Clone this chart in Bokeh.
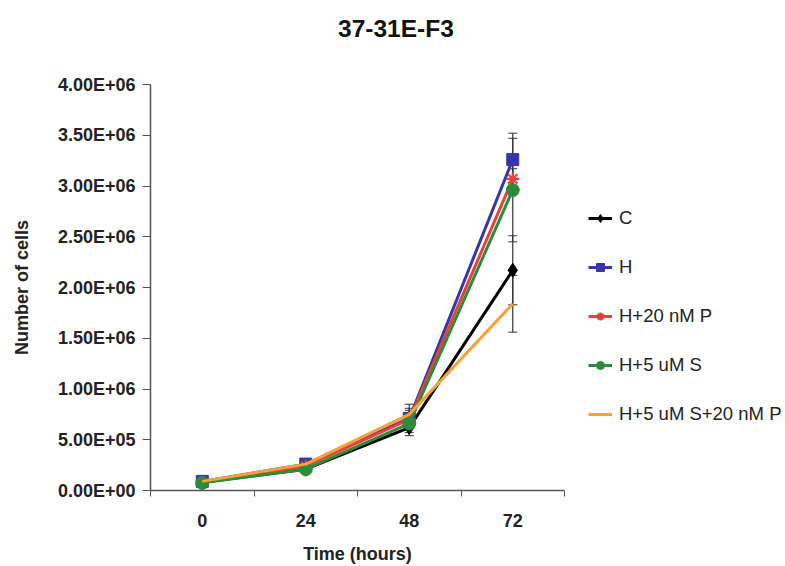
from bokeh.plotting import figure
from bokeh.models import (ColumnDataSource, FixedTicker, CustomJSTickFormatter, Range1d,
                          Legend, LegendItem, Whisker, Div)
from bokeh.layouts import column
from bokeh.embed import file_html
from bokeh.resources import INLINE

# ---- data ----
title_text = "37-31E-F3"
times = ["0", "24", "48", "72"]
series_names = ["C", "H", "H+20 nM P", "H+5 uM S", "H+5 uM S+20 nM P"]
c_vals = [80000, 210000, 620000, 2170000]
c_err = [20000, 30000, 80000, 340000]
h_vals = [90000, 260000, 710000, 3260000]
h_err = [20000, 30000, 100000, 260000]
hp_vals = [80000, 240000, 700000, 3070000]
hp_err = [20000, 30000, 90000, 100000]
hs_vals = [75000, 210000, 660000, 2960000]
hs_err = [20000, 30000, 90000, 510000]
hsp_vals = [90000, 260000, 750000, 1840000]
hsp_err = [20000, 30000, 100000, 280000]
y_ticks = [0, 500000, 1000000, 1500000, 2000000, 2500000, 3000000, 3500000, 4000000]

values = [c_vals, h_vals, hp_vals, hs_vals, hsp_vals]
errors = [c_err, h_err, hp_err, hs_err, hsp_err]
colors = ["#000000", "#3636a8", "#e8403c", "#2e8b3a", "#f2a33a"]
markers = ["diamond", "square", "asterisk", "circle", None]
msizes = [14, 12, 13, 13, 0]

xpos = [i + 0.5 for i in range(len(times))]

FONT = "Liberation Sans"

title_div = Div(
    text=('<div style="padding-top:14px;padding-left:338px;white-space:nowrap;'
          'font-family:\'Liberation Sans\';font-weight:bold;font-size:24.5px;'
          'line-height:30px;color:#111111;">' + title_text + '</div>'),
    width=777, height=60, margin=0)

p = figure(width=777, height=498, output_backend="svg", toolbar_location=None,
           x_range=Range1d(0, len(times)), y_range=Range1d(0, 4000000),
           min_border_left=150, min_border_right=213, min_border_top=24, min_border_bottom=68)
p.frame_width = 414
p.frame_height = 406
p.margin = 0
p.outline_line_color = None
p.grid.visible = False
p.background_fill_color = "white"
p.border_fill_color = "white"

# x axis
p.xaxis.ticker = FixedTicker(ticks=xpos, minor_ticks=list(range(len(times) + 1)))
p.xaxis.major_label_overrides = {x: t for x, t in zip(xpos, times)}
p.xaxis.major_tick_out = 0
p.xaxis.major_tick_in = 0
p.xaxis.minor_tick_out = 6
p.xaxis.minor_tick_in = 0
p.xaxis.axis_label = "Time (hours)"
# y axis
p.yaxis.ticker = FixedTicker(ticks=y_ticks, minor_ticks=[])
p.yaxis.formatter = CustomJSTickFormatter(code="""
const s = tick.toExponential(2).split('e');
const e = parseInt(s[1]);
return s[0] + 'E' + (e < 0 ? '-' : '+') + String(Math.abs(e)).padStart(2, '0');
""")
p.yaxis.major_tick_out = 8
p.yaxis.major_tick_in = 0
p.yaxis.axis_label = "Number of cells"

for ax in (p.xaxis[0], p.yaxis[0]):
    ax.axis_line_color = "#555555"
    ax.axis_line_width = 1.5
    ax.major_tick_line_color = "#555555"
    ax.minor_tick_line_color = "#555555"
    ax.major_label_text_font = FONT
    ax.major_label_text_font_style = "bold"
    ax.major_label_text_font_size = "18px"
    ax.major_label_text_color = "#222222"
    ax.axis_label_text_font = FONT
    ax.axis_label_text_font_style = "bold"
    ax.axis_label_text_font_size = "18px"
    ax.axis_label_text_color = "#222222"
p.yaxis.major_label_standoff = 7
p.xaxis.major_label_standoff = 17
p.yaxis.axis_label_standoff = 23
p.xaxis.axis_label_standoff = 14

items = []
sources = []
for name, vals, errs, col, mk, ms in zip(series_names, values, errors, colors, markers, msizes):
    src = ColumnDataSource(dict(x=xpos, y=vals,
                                upper=[v + e for v, e in zip(vals, errs)],
                                lower=[v - e for v, e in zip(vals, errs)]))
    sources.append(src)
    w = Whisker(base="x", upper="upper", lower="lower", source=src,
                line_color="#333333", line_width=1.2)
    w.upper_head.size = 9
    w.lower_head.size = 9
    w.upper_head.line_color = "#333333"
    w.lower_head.line_color = "#333333"
    p.add_layout(w)

for name, src, col, mk, ms in zip(series_names, sources, colors, markers, msizes):
    rs = [p.line("x", "y", source=src, line_color=col, line_width=3)]
    if mk is not None:
        if mk == "asterisk":
            rs.append(p.scatter("x", "y", source=src, marker=mk, size=ms,
                                line_color=col, line_width=2.2))
        else:
            rs.append(p.scatter("x", "y", source=src, marker=mk, size=ms,
                                fill_color=col, line_color=col))
    items.append(LegendItem(label=name, renderers=rs))

legend = Legend(items=items, location=(24, 65), orientation="vertical",
                padding=0, margin=0, spacing=27, label_height=20, glyph_height=20,
                glyph_width=24, label_standoff=7,
                border_line_color=None, background_fill_alpha=0,
                label_text_font=FONT, label_text_font_size="18.5px",
                label_text_color="#222222")
p.add_layout(legend, "right")

layout = column(title_div, p, spacing=0)
open("out.html", "w").write(file_html(layout, INLINE))
